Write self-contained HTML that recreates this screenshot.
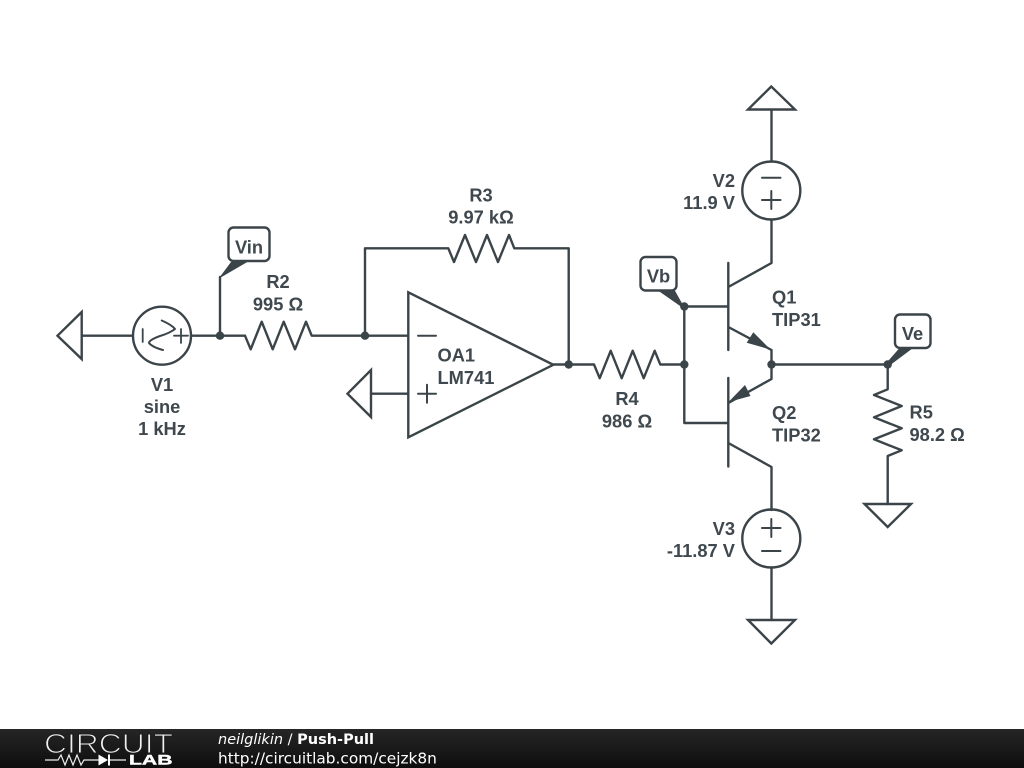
<!DOCTYPE html>
<html>
<head>
<meta charset="utf-8">
<style>
html,body{margin:0;padding:0;background:#fff;}
svg{display:block;}
.w{fill:none;stroke:#3b4449;stroke-width:2.4;stroke-linejoin:round;stroke-linecap:round;}
.t{fill:none;stroke:#3b4449;stroke-width:2.4;stroke-linejoin:miter;}
.d{fill:#3b4449;stroke:none;}
text.l{font-family:"Liberation Sans",sans-serif;font-size:18.3px;font-weight:bold;fill:#3f484e;}
.m{text-anchor:middle;}
.e{text-anchor:end;}
.f{font-family:"DejaVu Sans",sans-serif;fill:#fff;}
</style>
</head>
<body>
<svg width="1024" height="768" viewBox="0 0 1024 768" xmlns="http://www.w3.org/2000/svg">
<defs>
<linearGradient id="g" x1="0" y1="0" x2="0" y2="1"><stop offset="0" stop-color="#262626"/><stop offset="1" stop-color="#0d0d0d"/></linearGradient>
</defs>
<rect width="1024" height="768" fill="#fff"/>

<!-- V1 and ground -->
<polygon class="t" points="57.5,335.7 81.7,312 81.7,359"/>
<path class="w" d="M81.7 335.7H132M191 335.7H245"/>
<circle class="w" cx="162" cy="335.7" r="29"/>
<path class="w" style="stroke-width:1.8" d="M142.7 329V342M174 335.7H188M181 329V343"/>
<path class="w" style="stroke-width:2" d="M161.7 320.5Q172 325 175 329Q170 333 160 336Q149 340 149 343Q152 347 163 350"/>

<!-- Vin -->
<path class="w" d="M220 335.7V277"/>
<polygon class="d" points="219,278.5 220,276.7 231,262 247.3,262"/>
<rect class="w" x="228.5" y="227.5" width="41" height="33.5" rx="5"/>
<circle class="d" cx="220" cy="335.7" r="4.2"/>

<!-- R2 -->
<path class="w" d="M245 335.7L250.7 349.3L261.7 321.7L272.7 349.3L283.7 321.7L295 349.3L306 321.7L311.7 335.7H408"/>
<circle class="d" cx="365" cy="335.7" r="4.2"/>

<!-- R3 -->
<path class="w" d="M365 335.7V248.3H448.3L454 262L465 235L476 262L487 235L498 262L509 235L514.3 248.3H568.7V364.5"/>

<!-- Op amp -->
<polygon class="t" points="408.3,292.3 408.3,437.3 553.3,364.8"/>
<path class="w" style="stroke-width:2" d="M418 335.7H436M418 393.7H436M427 384.7V402.7"/>
<polygon class="t" points="347.5,393.7 371,370 371,417"/>
<path class="w" d="M371 393.7H408"/>

<!-- R4 -->
<path class="w" d="M553.3 364.5H594L599.7 378.2L610.7 350.8L621.7 378.2L632.7 350.8L643.7 378.2L654.7 350.8L660.3 364.5H684"/>
<circle class="d" cx="568.7" cy="364.5" r="4.2"/>

<!-- Base wiring -->
<path class="w" d="M728.3 306.5H684.3V423H728.3"/>
<circle class="d" cx="684.3" cy="306.5" r="4.2"/>
<circle class="d" cx="684.3" cy="364.5" r="4.2"/>

<!-- Vb -->
<polygon class="d" points="684.3,307.5 683,308 658.3,290.7 675,290.7"/>
<rect class="w" x="640.5" y="257" width="36" height="33.5" rx="5"/>

<!-- Q1 Q2 -->
<path class="w" d="M728.3 263V350M728.3 287L771.5 263V220M728.3 327L771.5 350V379L728.3 403M728.3 378V466.5M728.3 443L771.5 467V510"/>
<polygon class="d" points="770.5,349.6 753.3,332.3 746.7,342.7"/>
<polygon class="d" points="728.5,402 745,385 750.5,396"/>
<circle class="d" cx="771.5" cy="364.5" r="4.2"/>

<!-- V2 -->
<circle class="w" cx="771.3" cy="190.5" r="29"/>
<path class="w" style="stroke-width:2" d="M762 177.7H780.5M762 200H780.5M771.3 191V209"/>
<path class="w" d="M771.5 161.5V110"/>
<polygon class="t" points="771.3,86.5 748,109.5 795,109.5"/>

<!-- V3 -->
<circle class="w" cx="771.3" cy="538.5" r="29"/>
<path class="w" style="stroke-width:2" d="M762 528H780.5M771.3 519V537M762 551H780.5"/>
<path class="w" d="M771.5 567.5V620"/>
<polygon class="t" points="771.3,643.5 748,620 795,620"/>

<!-- Output and R5 -->
<path class="w" d="M771.5 364.5H887.7V389.3L874 395L901.7 406L874 417.3L901.7 428.3L874 439.3L901.7 450.3L887.7 456V504"/>
<circle class="d" cx="887.7" cy="364.5" r="4.2"/>
<polygon class="t" points="887.7,527 864.5,504 911,504"/>

<!-- Ve -->
<polygon class="d" points="885.5,364 887.7,367 912.7,348.3 899.3,348.3"/>
<rect class="w" x="895" y="314.5" width="35.5" height="33.5" rx="5"/>

<!-- Labels -->
<text class="l m" x="249" y="253.3">Vin</text>
<text class="l m" x="658.5" y="282.3">Vb</text>
<text class="l m" x="912.5" y="340">Ve</text>
<text class="l m" x="278" y="288">R2</text>
<text class="l m" x="278" y="310.7">995 Ω</text>
<text class="l m" x="162" y="391">V1</text>
<text class="l m" x="162" y="413">sine</text>
<text class="l m" x="162" y="435">1 kHz</text>
<text class="l m" x="481" y="201.5">R3</text>
<text class="l m" x="481" y="223.3">9.97 kΩ</text>
<text class="l" x="437.5" y="361.5">OA1</text>
<text class="l" x="437.5" y="384">LM741</text>
<text class="l m" x="627" y="405">R4</text>
<text class="l m" x="627" y="427.5">986 Ω</text>
<text class="l" x="772" y="303.3">Q1</text>
<text class="l" x="772" y="326">TIP31</text>
<text class="l" x="772" y="419">Q2</text>
<text class="l" x="772" y="441.5">TIP32</text>
<text class="l e" x="735" y="187">V2</text>
<text class="l e" x="735" y="209">11.9 V</text>
<text class="l e" x="735" y="535">V3</text>
<text class="l e" x="735" y="557">-11.87 V</text>
<text class="l" x="909.5" y="418.3">R5</text>
<text class="l" x="909.5" y="441">98.2 Ω</text>

<!-- Footer -->
<rect x="0" y="729" width="1024" height="39" fill="url(#g)"/>
<text x="44" y="753" font-family="Liberation Sans, sans-serif" font-size="28" fill="#f0f0f0" stroke="#1c1c1c" stroke-width="1.1" textLength="129" lengthAdjust="spacingAndGlyphs">CIRCUIT</text>
<path d="M45 760H58L61 755L65 765L69 755L73 765L77 755L81 765L84 760H100M110 760H126" fill="none" stroke="#eee" stroke-width="1.2"/>
<polygon points="98.5,754.5 98.5,765.5 108,760" fill="#fff"/>
<rect x="108" y="754.5" width="2" height="11" fill="#fff"/>
<text x="129" y="764.5" font-family="Liberation Sans, sans-serif" font-size="13.5" font-weight="bold" fill="#fff" stroke="#fff" stroke-width="0.4" textLength="43.5" lengthAdjust="spacingAndGlyphs">LAB</text>
<text class="f" x="218" y="744" font-size="14.5"><tspan font-style="italic">neilglikin</tspan> / <tspan font-weight="bold">Push-Pull</tspan></text>
<text class="f" x="218" y="763.5" font-size="15.35">http://circuitlab.com/cejzk8n</text>
</svg>
</body>
</html>
